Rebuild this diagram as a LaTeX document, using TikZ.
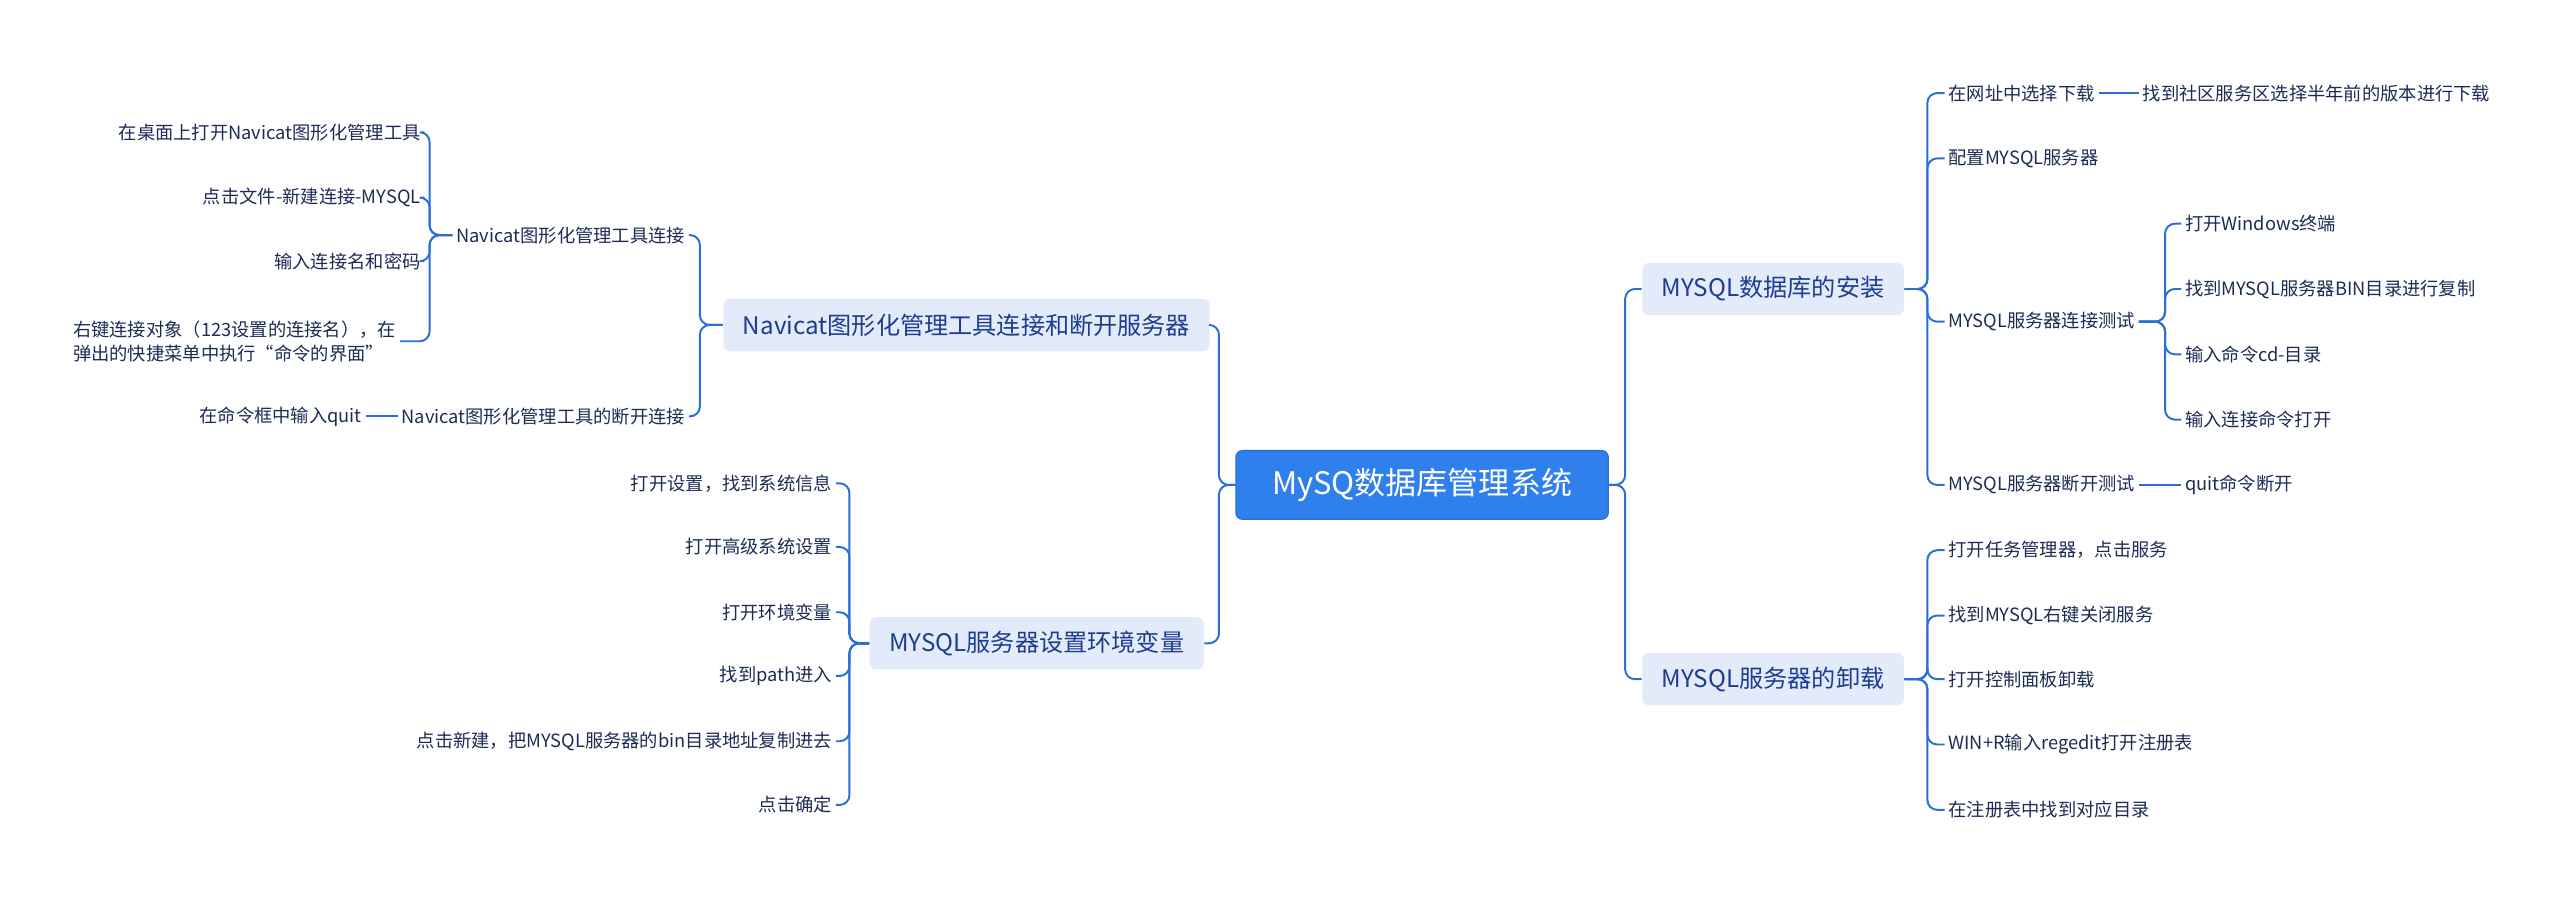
\documentclass[tikz,border=0pt]{standalone}
\usepackage{fontspec}
\setmainfont{Noto Sans CJK SC}
\definecolor{linkblue}{HTML}{2B6FD6}
\definecolor{rootblue}{HTML}{2F80ED}
\definecolor{topicfill}{HTML}{E3EBFB}
\definecolor{topictext}{HTML}{1D3E8C}
\definecolor{leaftext}{HTML}{1C2C55}
\tikzset{
  rootbox/.style={draw=linkblue, fill=rootblue, text=white, rounded corners=2pt, minimum width=114pt, minimum height=21pt, font=\fontsize{9.5}{11}\selectfont},
  topicbox/.style={fill=topicfill, text=topictext, rounded corners=2pt, minimum height=16pt, inner xsep=6pt, font=\fontsize{7.4}{9}\selectfont},
  leaf/.style={text=leaftext, inner xsep=1pt, inner ysep=1pt, font=\fontsize{5.6}{7.2}\selectfont},
  link/.style={draw=linkblue, line width=0.6pt, rounded corners=3pt}
}
\begin{document}
\begin{tikzpicture}[x=0.5pt,y=-0.5pt]
\useasboundingbox (0,0) rectangle (1568,554);

% 中心与一级主题
\node[rootbox] (root) at (871,297) {MySQ数据库管理系统};
\node[topicbox] (inst) at (1086,177) {MYSQL数据库的安装};
\node[topicbox] (unin) at (1086,416) {MYSQL服务器的卸载};
\node[topicbox] (navi) at (592,199) {Navicat图形化管理工具连接和断开服务器};
\node[topicbox] (envv) at (635,394) {MYSQL服务器设置环境变量};

\foreach \t in {inst,unin} \draw[link] (root.east) -- ++(10,0) |- (\t.west);
\foreach \t in {navi,envv} \draw[link] (root.west) -- ++(-10,0) |- (\t.east);

% 安装
\node[leaf, anchor=west] (i1) at (1191,57) {在网址中选择下载};
\node[leaf, anchor=west] (i2) at (1191,97) {配置MYSQL服务器};
\node[leaf, anchor=west] (i3) at (1191,197) {MYSQL服务器连接测试};
\node[leaf, anchor=west] (i4) at (1191,297) {MYSQL服务器断开测试};
\foreach \t in {i1,i2,i3,i4} \draw[link] (inst.east) -- ++(14,0) |- (\t.west);
\node[leaf, anchor=west] (i1a) at (1310,57) {找到社区服务区选择半年前的版本进行下载};
\draw[link] (i1.east) -- (i1a.west);
\node[leaf, anchor=west] (i3a) at (1336,137) {打开Windows终端};
\node[leaf, anchor=west] (i3b) at (1336,177) {找到MYSQL服务器BIN目录进行复制};
\node[leaf, anchor=west] (i3c) at (1336,217) {输入命令cd-目录};
\node[leaf, anchor=west] (i3d) at (1336,257) {输入连接命令打开};
\foreach \t in {i3a,i3b,i3c,i3d} \draw[link] (i3.east) -- ++(16,0) |- (\t.west);
\node[leaf, anchor=west] (i4a) at (1336,297) {quit命令断开};
\draw[link] (i4.east) -- (i4a.west);

% 卸载
\node[leaf, anchor=west] (u1) at (1191,337) {打开任务管理器，点击服务};
\node[leaf, anchor=west] (u2) at (1191,377) {找到MYSQL右键关闭服务};
\node[leaf, anchor=west] (u3) at (1191,416) {打开控制面板卸载};
\node[leaf, anchor=west] (u4) at (1191,456) {WIN+R输入regedit打开注册表};
\node[leaf, anchor=west] (u5) at (1191,496) {在注册表中找到对应目录};
\foreach \t in {u1,u2,u3,u4,u5} \draw[link] (unin.east) -- ++(14,0) |- (\t.west);

% Navicat
\node[leaf, anchor=east] (n1) at (422,144) {Navicat图形化管理工具连接};
\node[leaf, anchor=east] (n2) at (422,255) {Navicat图形化管理工具的断开连接};
\foreach \t in {n1,n2} \draw[link] (navi.west) -- ++(-14,0) |- (\t.east);
\node[leaf, anchor=east] (n1a) at (260,81) {在桌面上打开Navicat图形化管理工具};
\node[leaf, anchor=east] (n1b) at (260,121) {点击文件-新建连接-MYSQL};
\node[leaf, anchor=east] (n1c) at (260,160) {输入连接名和密码};
\node[leaf, anchor=east, align=left] (n1d) at (245,209) {右键连接对象（123设置的连接名），在\\弹出的快捷菜单中执行“命令的界面”};
\foreach \t in {n1a,n1b,n1c,n1d} \draw[link] (n1.west) -- ++(-14,0) |- (\t.east);
\node[leaf, anchor=east] (n2a) at (224,255) {在命令框中输入quit};
\draw[link] (n2.west) -- (n2a.east);

% 环境变量
\node[leaf, anchor=east] (e1) at (512,296) {打开设置，找到系统信息};
\node[leaf, anchor=east] (e2) at (512,335) {打开高级系统设置};
\node[leaf, anchor=east] (e3) at (512,375) {打开环境变量};
\node[leaf, anchor=east] (e4) at (512,414) {找到path进入};
\node[leaf, anchor=east] (e5) at (512,454) {点击新建，把MYSQL服务器的bin目录地址复制进去};
\node[leaf, anchor=east] (e6) at (512,493) {点击确定};
\foreach \t in {e1,e2,e3,e4,e5,e6} \draw[link] (envv.west) -- ++(-12,0) |- (\t.east);
\end{tikzpicture}
\end{document}
